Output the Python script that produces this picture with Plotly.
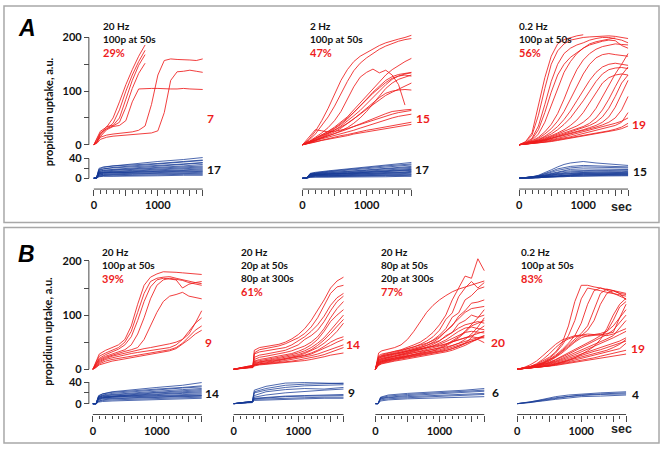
import plotly.graph_objects as go

# ---------------- data ----------------
GRID100 = [0, 100, 200, 300, 400, 500, 600, 700, 800, 900, 1000, 1100, 1200, 1300, 1400, 1500, 1600, 1700]
GRID50 = [0, 50, 100, 200, 300, 400, 500, 600, 700, 800, 900, 1000, 1100, 1200, 1300, 1400, 1500, 1600, 1700]

# Panel A1: 20 Hz, 100p at 50s
A1_RED_X = GRID50
A1_RED = [
    [0, 12, 25, 33, 50, 80, 112, 140, 165, 186],
    [0, 10, 22, 30, 40, 65, 100, 130, 155, 176],
    [0, 8, 20, 34, 36, 50, 85, 120, 148, 168],
    [0, 6, 18, 30, 35, 42, 70, 105, 133, 152],
    [0, 6, 15, 28, 34, 36, 45, 80, 104, 105, 105, 105, 104, 104, 104, 105, 104, 103, 103],
    [0, 5, 14, 18, 20, 21, 22, 24, 27, 35, 75, 130, 157, 160, 159, 159, 158, 157, 160],
    [0, 3, 10, 14, 16, 17, 18, 19, 20, 21, 22, 26, 60, 120, 136, 137, 139, 137, 135],
]
A1_BLUE_X = [0, 40, 80, 150, 300, 600, 1000, 1400, 1700]
A1_BLUE = [
    [0, 0, 18, 22, 25, 29, 34, 38, 42],
    [0, 0, 20, 23, 25, 27, 30, 34, 37],
    [0, 0, 15, 19, 22, 25, 29, 33, 36],
    [0, 0, 17, 19, 21, 23, 26, 29, 32],
    [0, 0, 13, 16, 18, 21, 25, 28, 31],
    [0, 0, 14, 16, 17, 19, 22, 25, 28],
    [0, 0, 11, 14, 16, 18, 21, 23, 25],
    [0, 0, 12, 13, 14, 16, 18, 21, 23],
    [0, 0, 10, 12, 13, 15, 17, 19, 21],
    [0, 0, 9, 11, 12, 13, 15, 17, 19],
    [0, 0, 8, 10, 11, 12, 14, 16, 17],
    [0, 0, 10, 11, 11, 12, 13, 14, 15],
    [0, 0, 6, 8, 9, 10, 12, 13, 14],
    [0, 0, 7, 8, 8, 9, 10, 11, 12],
    [0, 0, 5, 6, 7, 8, 9, 10, 10],
    [0, 0, 4, 5, 5, 6, 7, 8, 8],
    [0, 0, 3, 4, 4, 5, 5, 6, 6],
]

# Panel A2: 2 Hz, 100p at 50s
A2_RED_X = GRID100
A2_RED = [
    [0, 10, 25, 45, 68, 95, 120, 140, 155, 165, 172, 178, 185, 190, 194, 197, 200, 204],
    [0, 8, 20, 35, 52, 72, 95, 118, 138, 152, 162, 170, 178, 184, 189, 193, 196, 198],
    [0, 6, 14, 22, 32, 45, 62, 85, 108, 126, 135, 141, 134, 139, 130, 112, 74],
    [0, 5, 12, 18, 25, 33, 42, 52, 65, 78, 92, 106, 118, 130, 140, 148, 155, 161],
    [0, 4, 10, 16, 22, 30, 38, 48, 60, 72, 85, 98, 110, 120, 127, 131, 133, 135],
    [0, 5, 12, 18, 24, 31, 40, 50, 60, 72, 84, 96, 106, 116, 124, 128, 130, 128],
    [0, 4, 9, 14, 20, 27, 35, 44, 54, 64, 76, 88, 100, 112, 122, 128, 132, 134],
    [0, 3, 8, 13, 18, 24, 31, 39, 48, 58, 68, 79, 88, 96, 100, 102, 103, 102],
    [0, 6, 12, 17, 22, 27, 33, 40, 48, 57, 66, 75, 84, 92, 98, 104, 110, 115],
    [0, 4, 9, 13, 17, 21, 25, 29, 34, 39, 44, 49, 54, 58, 62, 64, 65, 66],
    [0, 3, 7, 11, 14, 17, 20, 23, 27, 31, 35, 39, 43, 47, 50, 53, 55, 57],
    [0, 15, 28, 26, 24, 25, 27, 30, 34, 38, 42, 46, 50, 54, 57, 60, 62, 64],
    [0, 3, 6, 9, 12, 14, 17, 19, 22, 24, 27, 29, 31, 33, 35, 37, 40, 42],
    [0, 2, 5, 8, 10, 13, 15, 17, 20, 22, 24, 26, 28, 30, 32, 34, 36, 38],
    [0, 4, 8, 12, 16, 21, 26, 32, 40, 50, 62, 76, 90, 105, 115, 122, 126, 130],
]
A2_BLUE_X = [0, 60, 120, 200, 400, 700, 1000, 1300, 1600, 1700]
A2_BLUE = [
    [0, 0, 10, 12, 15, 19, 23, 27, 30, 32],
    [0, 0, 9, 11, 14, 18, 22, 25, 28, 29],
    [0, 0, 8, 10, 13, 16, 19, 22, 25, 27],
    [0, 0, 9, 10, 12, 14, 17, 20, 23, 24],
    [0, 0, 7, 9, 11, 13, 16, 19, 21, 22],
    [0, 0, 8, 9, 10, 12, 14, 16, 19, 20],
    [0, 0, 6, 8, 9, 11, 13, 15, 17, 18],
    [0, 0, 7, 8, 9, 10, 12, 14, 16, 17],
    [0, 0, 5, 7, 8, 10, 11, 13, 15, 16],
    [0, 0, 6, 7, 8, 9, 10, 12, 13, 14],
    [0, 0, 4, 6, 7, 8, 9, 11, 12, 13],
    [0, 0, 5, 6, 6, 7, 8, 10, 11, 12],
    [0, 0, 3, 5, 5, 6, 7, 8, 9, 10],
    [0, 0, 4, 5, 5, 6, 6, 7, 8, 8],
    [0, 0, 3, 4, 4, 5, 5, 6, 6, 7],
    [0, 0, 2, 3, 3, 4, 4, 5, 5, 5],
    [0, 0, 2, 2, 2, 3, 3, 3, 4, 4],
]

# Panel A3: 0.2 Hz, 100p at 50s
A3_RED_X = GRID100
A3_RED = [
    [0, 6, 22, 75, 125, 165, 188, 196, 200, 203, 205],
    [0, 5, 18, 55, 105, 150, 175, 188, 195, 198, 200, 201, 202, 203, 203, 202, 200, 198],
    [0, 4, 12, 35, 75, 118, 150, 170, 180, 186, 190, 195, 198, 200, 200, 198, 195, 190],
    [0, 3, 10, 28, 60, 98, 130, 150, 163, 172, 180, 186, 190, 193, 195, 194, 185, 180],
    [0, 3, 8, 20, 42, 72, 105, 135, 155, 170, 180, 188, 192, 195, 197, 199],
    [0, 3, 7, 14, 24, 38, 58, 85, 115, 140, 158, 170, 178, 183, 186, 188, 187, 186],
    [0, 2, 6, 12, 20, 30, 44, 62, 85, 110, 132, 150, 162, 168, 170, 168, 166, 165],
    [0, 2, 5, 10, 16, 24, 34, 47, 63, 82, 102, 120, 135, 145, 150, 152, 150, 148],
    [0, 2, 5, 9, 14, 20, 28, 38, 50, 65, 82, 100, 118, 132, 140, 143, 144, 142],
    [0, 2, 5, 8, 12, 17, 22, 28, 36, 46, 60, 78, 98, 115, 125, 130, 132, 130],
    [0, 2, 4, 7, 11, 15, 20, 25, 30, 35, 42, 52, 68, 90, 112, 132, 150, 170],
    [0, 2, 4, 7, 10, 14, 18, 22, 26, 30, 34, 40, 50, 65, 85, 108, 130, 145],
    [0, 2, 4, 6, 9, 12, 16, 20, 24, 28, 32, 36, 42, 52, 68, 90, 115, 130],
    [0, 1, 3, 6, 9, 12, 15, 18, 21, 24, 28, 32, 36, 42, 52, 70, 95, 120],
    [0, 1, 3, 5, 8, 11, 14, 17, 20, 23, 26, 29, 33, 37, 42, 50, 65, 90],
    [0, 1, 3, 5, 7, 9, 12, 15, 18, 21, 24, 27, 30, 33, 36, 40, 44, 50],
    [0, 1, 2, 4, 6, 8, 10, 12, 15, 18, 21, 24, 27, 30, 33, 36, 42, 60],
    [0, 1, 2, 4, 5, 7, 9, 11, 13, 15, 17, 19, 21, 23, 26, 29, 33, 40],
    [0, 1, 2, 3, 5, 6, 8, 10, 12, 14, 16, 18, 20, 22, 24, 27, 30, 35],
]
A3_BLUE_X = [0, 100, 200, 300, 400, 500, 600, 700, 800, 1000, 1200, 1400, 1600, 1700]
A3_BLUE = [
    [0, 1, 3, 6, 11, 17, 23, 28, 31, 34, 31, 29, 27, 26],
    [0, 1, 3, 5, 9, 14, 19, 22, 24, 26, 25, 23, 22, 23],
    [0, 1, 2, 5, 8, 12, 16, 19, 21, 23, 22, 21, 20, 21],
    [0, 1, 2, 4, 7, 10, 13, 16, 18, 19, 19, 18, 18, 18],
    [0, 1, 2, 4, 6, 9, 12, 14, 15, 16, 16, 16, 16, 17],
    [0, 1, 2, 3, 5, 8, 10, 12, 13, 14, 14, 15, 15, 15],
    [0, 1, 2, 3, 5, 7, 9, 10, 11, 12, 13, 13, 13, 14],
    [0, 1, 2, 3, 4, 6, 8, 9, 10, 11, 11, 12, 12, 12],
    [0, 0, 1, 2, 4, 5, 7, 8, 9, 10, 10, 11, 11, 11],
    [0, 0, 1, 2, 3, 5, 6, 7, 8, 9, 9, 10, 10, 10],
    [0, 0, 1, 2, 3, 4, 5, 6, 7, 8, 8, 9, 9, 9],
    [0, 0, 1, 2, 3, 4, 5, 5, 6, 7, 7, 8, 8, 8],
    [0, 0, 1, 1, 2, 3, 4, 5, 5, 6, 6, 7, 7, 7],
    [0, 0, 1, 1, 2, 3, 3, 4, 4, 5, 5, 6, 6, 6],
    [0, 0, 0, 1, 2, 2, 3, 3, 4, 4, 5, 5, 5, 5],
]

# Panel B1: 20 Hz, 100p at 50s
B1_RED_X = GRID50
B1_RED = [
    [0, 15, 28, 35, 40, 45, 55, 80, 120, 155, 170, 176, 180, 180, 179, 178, 177, 176, 175],
    [0, 12, 24, 30, 35, 40, 50, 70, 105, 140, 162, 168, 170, 171, 168, 165, 162, 160, 158],
    [0, 10, 20, 27, 32, 37, 45, 60, 90, 125, 152, 165, 168, 167, 165, 150, 157, 160, 162],
    [0, 8, 18, 24, 28, 32, 36, 45, 65, 95, 130, 155, 165, 168, 166, 164, 160, 158, 155],
    [0, 8, 16, 22, 26, 30, 33, 36, 40, 55, 80, 105, 125, 135, 138, 142, 135, 133, 130],
    [0, 6, 14, 20, 24, 27, 30, 33, 36, 38, 40, 42, 44, 47, 50, 55, 65, 85, 108],
    [0, 5, 12, 18, 21, 24, 27, 29, 31, 33, 35, 36, 38, 40, 45, 55, 70, 85, 95],
    [0, 4, 10, 15, 18, 20, 22, 24, 26, 28, 30, 32, 34, 36, 40, 48, 60, 72, 80],
    [0, 3, 8, 12, 15, 17, 19, 21, 23, 25, 27, 29, 31, 34, 38, 46, 55, 65, 72],
]
B1_BLUE_X = [0, 50, 90, 150, 300, 600, 1000, 1400, 1700]
B1_BLUE = [
    [0, 0, 14, 18, 22, 26, 30, 34, 39],
    [0, 0, 15, 18, 21, 24, 27, 30, 33],
    [0, 0, 12, 16, 19, 22, 26, 29, 31],
    [0, 0, 13, 15, 17, 20, 23, 26, 28],
    [0, 0, 11, 14, 16, 18, 21, 24, 26],
    [0, 0, 10, 12, 14, 17, 20, 22, 24],
    [0, 0, 12, 13, 14, 16, 18, 20, 22],
    [0, 0, 9, 11, 13, 15, 17, 19, 20],
    [0, 0, 8, 10, 12, 14, 15, 17, 18],
    [0, 0, 10, 11, 12, 13, 14, 15, 16],
    [0, 0, 7, 9, 10, 11, 13, 14, 15],
    [0, 0, 5, 7, 9, 10, 12, 13, 14],
    [0, 0, 4, 6, 7, 8, 10, 11, 12],
    [0, 0, 3, 4, 5, 6, 8, 9, 10],
]

# Panel B2: 20 Hz, 20p at 50s, 80p at 300s
B2_RED_X = [0, 100, 200, 300, 320, 400, 500, 600, 700, 800, 900, 1000, 1100, 1200, 1300, 1400, 1500, 1600, 1700]
B2_RED = [
    [0, 3, 5, 7, 35, 40, 42, 44, 46, 50, 56, 64, 75, 90, 108, 128, 150, 163, 170],
    [0, 3, 5, 7, 30, 36, 38, 40, 43, 47, 52, 58, 66, 78, 95, 118, 140, 152, 155],
    [0, 2, 4, 6, 28, 32, 34, 36, 38, 40, 45, 52, 60, 70, 82, 98, 118, 132, 140],
    [0, 2, 4, 6, 22, 26, 28, 30, 32, 35, 40, 45, 55, 62, 72, 88, 108, 125, 135],
    [0, 2, 4, 6, 18, 22, 24, 26, 28, 31, 34, 38, 43, 50, 60, 75, 95, 112, 125],
    [0, 2, 4, 5, 15, 18, 20, 22, 24, 26, 29, 33, 38, 45, 55, 70, 88, 100, 110],
    [0, 2, 3, 5, 14, 16, 18, 20, 22, 24, 27, 30, 34, 40, 48, 58, 72, 88, 100],
    [0, 2, 3, 5, 12, 14, 16, 18, 20, 22, 24, 27, 31, 36, 44, 54, 66, 80, 92],
    [0, 2, 3, 5, 10, 13, 15, 16, 18, 20, 22, 25, 29, 34, 40, 48, 58, 70, 85],
    [0, 2, 3, 4, 9, 12, 13, 15, 17, 19, 21, 23, 26, 30, 35, 42, 50, 56, 60],
    [0, 1, 3, 4, 8, 10, 12, 14, 16, 18, 20, 22, 25, 28, 33, 38, 44, 50, 55],
    [0, 1, 2, 4, 8, 10, 11, 12, 14, 16, 18, 20, 22, 25, 28, 32, 36, 40, 45],
    [0, 1, 2, 4, 7, 9, 10, 11, 12, 14, 15, 17, 19, 21, 24, 27, 31, 36, 40],
    [0, 1, 2, 3, 6, 8, 9, 10, 11, 12, 13, 14, 16, 18, 20, 23, 26, 28, 30],
]
B2_BLUE_X = [0, 100, 200, 290, 320, 500, 800, 1100, 1400, 1700]
B2_BLUE = [
    [0, 2, 3, 4, 25, 32, 38, 39, 38, 37],
    [0, 2, 3, 4, 22, 28, 34, 36, 37, 38],
    [0, 2, 3, 4, 20, 25, 30, 33, 34, 35],
    [0, 2, 3, 4, 15, 22, 26, 28, 27, 30],
    [0, 1, 2, 3, 12, 16, 20, 23, 25, 27],
    [0, 1, 2, 3, 10, 12, 14, 15, 16, 17],
    [0, 1, 2, 3, 9, 11, 13, 14, 15, 15],
    [0, 1, 2, 3, 8, 9, 10, 11, 12, 12],
    [0, 1, 2, 2, 6, 7, 8, 9, 10, 10],
]

# Panel B3: 20 Hz, 80p at 50s, 20p at 300s
B3_RED_X = GRID50
B3_RED = [
    [0, 30, 34, 37, 40, 45, 55, 70, 88, 105, 118, 128, 136, 143, 148, 152, 156, 160, 163],
    [0, 22, 26, 30, 33, 36, 40, 45, 50, 58, 68, 82, 100, 128, 150, 172, 168, 204, 182],
    [0, 20, 24, 28, 31, 34, 37, 41, 46, 52, 60, 72, 92, 104, 134, 150, 162, 150, 160],
    [0, 18, 22, 26, 29, 32, 35, 38, 42, 47, 54, 63, 75, 96, 104, 128, 136, 148, 152],
    [0, 16, 20, 24, 27, 30, 33, 36, 40, 44, 50, 58, 70, 80, 98, 108, 122, 124, 128],
    [0, 25, 28, 31, 33, 35, 38, 41, 44, 48, 53, 60, 70, 82, 94, 105, 112, 114, 116],
    [0, 14, 18, 22, 25, 28, 31, 34, 37, 41, 46, 52, 62, 68, 84, 90, 100, 96, 100],
    [0, 20, 23, 26, 28, 30, 33, 36, 40, 44, 48, 53, 60, 68, 76, 82, 85, 88, 85],
    [0, 12, 16, 20, 23, 26, 29, 32, 35, 39, 43, 48, 54, 62, 70, 76, 78, 75, 73],
    [0, 15, 18, 21, 24, 27, 30, 33, 36, 39, 42, 46, 51, 57, 63, 68, 70, 68, 67],
    [0, 10, 14, 18, 21, 24, 27, 30, 33, 36, 39, 42, 46, 51, 55, 58, 60, 58, 58],
    [0, 22, 25, 27, 29, 31, 33, 35, 37, 39, 41, 44, 47, 50, 54, 58, 62, 65, 70],
    [0, 12, 15, 18, 20, 22, 24, 26, 28, 31, 34, 38, 43, 50, 58, 68, 80, 85, 90],
    [0, 9, 12, 15, 18, 21, 24, 27, 30, 33, 36, 40, 45, 52, 60, 70, 82, 95, 110],
    [0, 11, 14, 17, 19, 21, 23, 25, 27, 29, 31, 34, 37, 41, 45, 49, 52, 55, 49],
    [0, 8, 11, 14, 17, 19, 21, 23, 25, 27, 29, 31, 34, 38, 42, 47, 52, 56, 60],
    [0, 17, 20, 22, 24, 26, 28, 30, 32, 34, 36, 38, 41, 44, 48, 52, 55, 58, 62],
    [0, 13, 16, 19, 21, 23, 25, 27, 29, 31, 33, 36, 39, 43, 48, 55, 65, 78, 95],
    [0, 10, 13, 16, 18, 20, 22, 24, 26, 28, 30, 32, 35, 38, 42, 48, 58, 72, 80],
    [0, 7, 10, 13, 15, 17, 19, 21, 23, 25, 27, 29, 32, 35, 39, 44, 50, 56, 62],
]
B3_BLUE_X = [0, 40, 80, 200, 500, 1000, 1400, 1700]
B3_BLUE = [
    [0, 0, 12, 16, 19, 22, 25, 28],
    [0, 0, 11, 14, 17, 20, 22, 25],
    [0, 0, 10, 12, 15, 18, 20, 23],
    [0, 0, 9, 11, 13, 15, 17, 19],
    [0, 0, 7, 9, 11, 13, 15, 17],
    [0, 0, 5, 7, 9, 11, 12, 13],
]

# Panel B4: 0.2 Hz, 100p at 50s
B4_RED_X = GRID100
B4_RED = [
    [0, 2, 5, 9, 15, 22, 32, 48, 80, 125, 155, 155, 152, 150, 146, 140, 135, 130],
    [0, 2, 4, 8, 13, 20, 30, 44, 62, 90, 130, 150, 148, 145, 142, 140, 138, 135],
    [0, 2, 4, 8, 12, 18, 26, 36, 48, 62, 85, 120, 145, 150, 148, 145, 140, 138],
    [0, 2, 4, 7, 11, 17, 24, 34, 45, 56, 66, 80, 110, 140, 148, 145, 142, 140],
    [0, 2, 4, 7, 11, 16, 23, 32, 42, 52, 62, 72, 90, 120, 140, 145, 140, 128],
    [0, 3, 8, 15, 25, 36, 46, 54, 58, 62, 63, 65, 64, 66, 70, 90, 115, 125],
    [0, 2, 4, 7, 10, 15, 22, 30, 40, 50, 58, 62, 64, 63, 66, 68, 95, 120],
    [0, 2, 5, 10, 18, 28, 40, 50, 56, 60, 62, 61, 63, 64, 62, 65, 70, 75],
    [0, 1, 3, 6, 9, 13, 18, 24, 30, 36, 42, 48, 55, 62, 70, 80, 95, 110],
    [0, 1, 3, 5, 8, 12, 17, 22, 28, 34, 40, 46, 52, 58, 64, 72, 85, 100],
    [0, 1, 3, 5, 8, 11, 15, 20, 25, 30, 35, 40, 45, 50, 56, 62, 75, 90],
    [0, 1, 2, 4, 7, 10, 14, 18, 22, 27, 32, 37, 42, 47, 52, 58, 64, 70],
    [0, 1, 2, 4, 6, 9, 12, 16, 20, 24, 28, 32, 36, 40, 44, 48, 52, 58],
    [0, 1, 2, 4, 6, 8, 11, 14, 18, 22, 26, 30, 33, 36, 40, 43, 47, 52],
    [0, 1, 2, 3, 5, 7, 10, 13, 16, 19, 22, 25, 28, 31, 35, 40, 46, 55],
    [0, 1, 2, 3, 5, 7, 9, 11, 14, 17, 20, 23, 26, 29, 32, 35, 38, 48],
    [0, 1, 2, 3, 4, 6, 8, 10, 12, 14, 16, 18, 21, 24, 27, 30, 33, 35],
    [0, 1, 2, 3, 4, 5, 7, 9, 11, 13, 15, 17, 19, 21, 23, 25, 27, 28],
    [0, 1, 2, 3, 4, 6, 9, 12, 16, 21, 27, 34, 42, 55, 75, 100, 120, 131],
]
B4_BLUE_X = [0, 200, 400, 600, 800, 1000, 1300, 1700]
B4_BLUE = [
    [0, 3, 8, 13, 16, 18, 20, 22],
    [0, 3, 7, 11, 14, 16, 18, 20],
    [0, 2, 6, 10, 13, 15, 17, 18],
    [0, 2, 5, 8, 11, 13, 14, 16],
]

# texts
TITLES = {
    'A1': ['20 Hz', '100p at 50s'], 'A2': ['2 Hz', '100p at 50s'], 'A3': ['0.2 Hz', '100p at 50s'],
    'B1': ['20 Hz', '100p at 50s'], 'B2': ['20 Hz', '20p at 50s', '80p at 300s'],
    'B3': ['20 Hz', '80p at 50s', '20p at 300s'], 'B4': ['0.2 Hz', '100p at 50s'],
}
PERCENTS = {'A1': '29%', 'A2': '47%', 'A3': '56%', 'B1': '39%', 'B2': '61%', 'B3': '77%', 'B4': '83%'}
N_RED = {'A1': '7', 'A2': '15', 'A3': '19', 'B1': '9', 'B2': '14', 'B3': '20', 'B4': '19'}
N_BLUE = {'A1': '17', 'A2': '17', 'A3': '15', 'B1': '14', 'B2': '9', 'B3': '6', 'B4': '4'}
X_TICKS = [0, 500, 1000, 1500, 1700]
X_TICKTEXT = ['0', '', '1000', '', '']
RED_TICKS = [0, 50, 100, 150, 200]
RED_TICKTEXT = ['0', '', '100', '', '200']
BLUE_TICKS = [0, 20, 40]
BLUE_TICKTEXT = ['0', '', '40']
Y_TITLE = 'propidium uptake, a.u.'

DATA = {
    'A1': (A1_RED_X, A1_RED, A1_BLUE_X, A1_BLUE), 'A2': (A2_RED_X, A2_RED, A2_BLUE_X, A2_BLUE),
    'A3': (A3_RED_X, A3_RED, A3_BLUE_X, A3_BLUE), 'B1': (B1_RED_X, B1_RED, B1_BLUE_X, B1_BLUE),
    'B2': (B2_RED_X, B2_RED, B2_BLUE_X, B2_BLUE), 'B3': (B3_RED_X, B3_RED, B3_BLUE_X, B3_BLUE),
    'B4': (B4_RED_X, B4_RED, B4_BLUE_X, B4_BLUE),
}

# ---------------- layout geometry (pixels) ----------------
W, H = 662, 451
def fx(px): return px / W
def fy(py): return 1 - py / H

ROWS = {
    'A': dict(r0=144, r200=35, b0=178, b40=158, ax=189, t0=23, dt=13.5, yt=110),
    'B': dict(r0=372, r200=262, b0=407, b40=385, ax=418, t0=253, dt=13.4, yt=333),
}
PANELS = [
    dict(key='A1', row='A', x0=93, x1=202, tx=100, nrx=210, nry=117, nbx=213, nby=169, yaxis=True),
    dict(key='A2', row='A', x0=302, x1=411, tx=307, nrx=423, nry=117, nbx=422, nby=169, yaxis=False),
    dict(key='A3', row='A', x0=519, x1=628, tx=517, nrx=639, nry=123, nbx=640, nby=171, yaxis=False),
    dict(key='B1', row='B', x0=92, x1=201, tx=99, nrx=208, nry=345, nbx=211, nby=397, yaxis=True),
    dict(key='B2', row='B', x0=233, x1=343, tx=238, nrx=353, nry=347, nbx=351, nby=396, yaxis=False),
    dict(key='B3', row='B', x0=375, x1=484, tx=379, nrx=498, nry=345, nbx=495, nby=396, yaxis=False),
    dict(key='B4', row='B', x0=517, x1=626, tx=519, nrx=638, nry=351, nbx=635, nby=398, yaxis=False),
]
YAX_PX = 88
XMIN, XMAX = -30, 1740
RMIN, RMAX = -6, 215
BMIN, BMAX = -3, 48

RED = '#ee1c1c'
BLUE = 'rgba(22,58,150,0.9)'
AXC = '#4a4a4a'
TFONT = 'Lato'
TICKFONT = dict(family='Lato', size=11, color='#111', weight='bold')

fig = go.Figure()
shapes = []
ann = []

def ax_name(kind, n):
    return kind if n == 1 else f'{kind}{n}'

for i, p in enumerate(PANELS):
    row = ROWS[p['row']]
    key = p['key']
    xn, rn, bn = i + 1, 2 * i + 1, 2 * i + 2
    xref, rref, bref = ax_name('x', xn), ax_name('y', rn), ax_name('y', bn)
    rx, rys, bx, bys = DATA[key]
    for ys in rys:
        fig.add_trace(go.Scatter(x=rx[:len(ys)], y=ys, mode='lines', xaxis=xref, yaxis=rref,
                                 line=dict(color=RED, width=0.85), showlegend=False, hoverinfo='skip'))
    for ys in bys:
        fig.add_trace(go.Scatter(x=bx[:len(ys)], y=ys, mode='lines', xaxis=xref, yaxis=bref,
                                 line=dict(color=BLUE, width=0.85), showlegend=False, hoverinfo='skip'))

    s = (p['x1'] - p['x0']) / 1700.0
    fig.layout[ax_name('xaxis', xn)] = dict(
        domain=[fx(p['x0'] + XMIN * s), fx(p['x0'] + XMAX * s)], range=[XMIN, XMAX],
        anchor='free', position=fy(row['ax']), showgrid=False, zeroline=False, showline=False,
        ticks='outside', ticklen=6, tickwidth=1, tickcolor=AXC,
        tickvals=X_TICKS, ticktext=X_TICKTEXT, tickfont=TICKFONT,
        minor=dict(ticks='outside', ticklen=3.5, tickwidth=1, tickcolor=AXC, dtick=100, tick0=0, showgrid=False))
    shapes.append(dict(type='line', xref=xref, yref='paper', x0=0, x1=1700,
                       y0=fy(row['ax']), y1=fy(row['ax']), line=dict(color=AXC, width=1)))

    sr = (row['r0'] - row['r200']) / 200.0
    sb = (row['b0'] - row['b40']) / 40.0
    common = dict(showgrid=False, zeroline=False, showline=False, anchor='free', position=fx(YAX_PX),
                  visible=p['yaxis'], ticks='outside', ticklen=5, tickwidth=1, tickcolor=AXC,
                  tickfont=TICKFONT)
    fig.layout[ax_name('yaxis', rn)] = dict(
        domain=[fy(row['r0'] - RMIN * sr), fy(row['r0'] - RMAX * sr)], range=[RMIN, RMAX],
        tickvals=RED_TICKS, ticktext=RED_TICKTEXT, **common)
    fig.layout[ax_name('yaxis', bn)] = dict(
        domain=[fy(row['b0'] - BMIN * sb), fy(row['b0'] - BMAX * sb)], range=[BMIN, BMAX],
        tickvals=BLUE_TICKS, ticktext=BLUE_TICKTEXT, **common)
    if p['yaxis']:
        shapes.append(dict(type='line', xref='paper', yref=rref, x0=fx(YAX_PX), x1=fx(YAX_PX),
                           y0=0, y1=200, line=dict(color=AXC, width=1)))
        shapes.append(dict(type='line', xref='paper', yref=bref, x0=fx(YAX_PX), x1=fx(YAX_PX),
                           y0=0, y1=40, line=dict(color=AXC, width=1)))

    # titles
    lines = TITLES[key]
    for k, t in enumerate(lines):
        ann.append(dict(text=t, x=fx(p['tx']), y=fy(row['t0'] + k * row['dt']), xref='paper', yref='paper',
                        xanchor='left', yanchor='middle', showarrow=False,
                        font=dict(family=TFONT, size=10, color='#111', weight='bold')))
    ann.append(dict(text=PERCENTS[key], x=fx(p['tx']), y=fy(row['t0'] + len(lines) * row['dt']),
                    xref='paper', yref='paper', xanchor='left', yanchor='middle', showarrow=False,
                    font=dict(family=TFONT, size=11, color=RED, weight='bold')))
    ann.append(dict(text=N_RED[key], x=fx(p['nrx']), y=fy(p['nry']), xref='paper', yref='paper',
                    xanchor='center', yanchor='middle', showarrow=False,
                    font=dict(family=TFONT, size=12, color=RED, weight='bold')))
    ann.append(dict(text=N_BLUE[key], x=fx(p['nbx']), y=fy(p['nby']), xref='paper', yref='paper',
                    xanchor='center', yanchor='middle', showarrow=False,
                    font=dict(family=TFONT, size=12, color='#111', weight='bold')))

for r, row in ROWS.items():
    ann.append(dict(text=Y_TITLE, x=fx(47), y=fy(row['yt']), xref='paper', yref='paper', textangle=-90,
                    xanchor='center', yanchor='middle', showarrow=False,
                    font=dict(family=TFONT, size=11, color='#111', weight='bold')))

ann.append(dict(text='<b><i>A</i></b>', x=fx(26), y=fy(25), xref='paper', yref='paper', showarrow=False,
                xanchor='center', yanchor='middle', font=dict(family='Liberation Sans', size=23, color='#000')))
ann.append(dict(text='<b><i>B</i></b>', x=fx(26), y=fy(255), xref='paper', yref='paper', showarrow=False,
                xanchor='center', yanchor='middle', font=dict(family='Liberation Sans', size=23, color='#000')))
for yy in (207, 433):
    ann.append(dict(text='<b>sec</b>', x=fx(621), y=fy(yy), xref='paper', yref='paper', showarrow=False,
                    xanchor='center', yanchor='middle', font=dict(family='Liberation Sans', size=12.5, color='#222')))

shapes.append(dict(type='rect', xref='paper', yref='paper', x0=fx(3), x1=fx(659), y0=fy(223), y1=fy(3),
                   line=dict(color='#a8a8a8', width=1.5)))
shapes.append(dict(type='rect', xref='paper', yref='paper', x0=fx(3), x1=fx(659), y0=fy(447), y1=fy(228),
                   line=dict(color='#a8a8a8', width=1.5)))

fig.update_layout(width=W, height=H, autosize=False, margin=dict(l=0, r=0, t=0, b=0),
                  paper_bgcolor='white', plot_bgcolor='rgba(0,0,0,0)', shapes=shapes, annotations=ann)

fig.write_html("out.html", config={'displayModeBar': False},
               post_script="document.body.style.margin='0';")
